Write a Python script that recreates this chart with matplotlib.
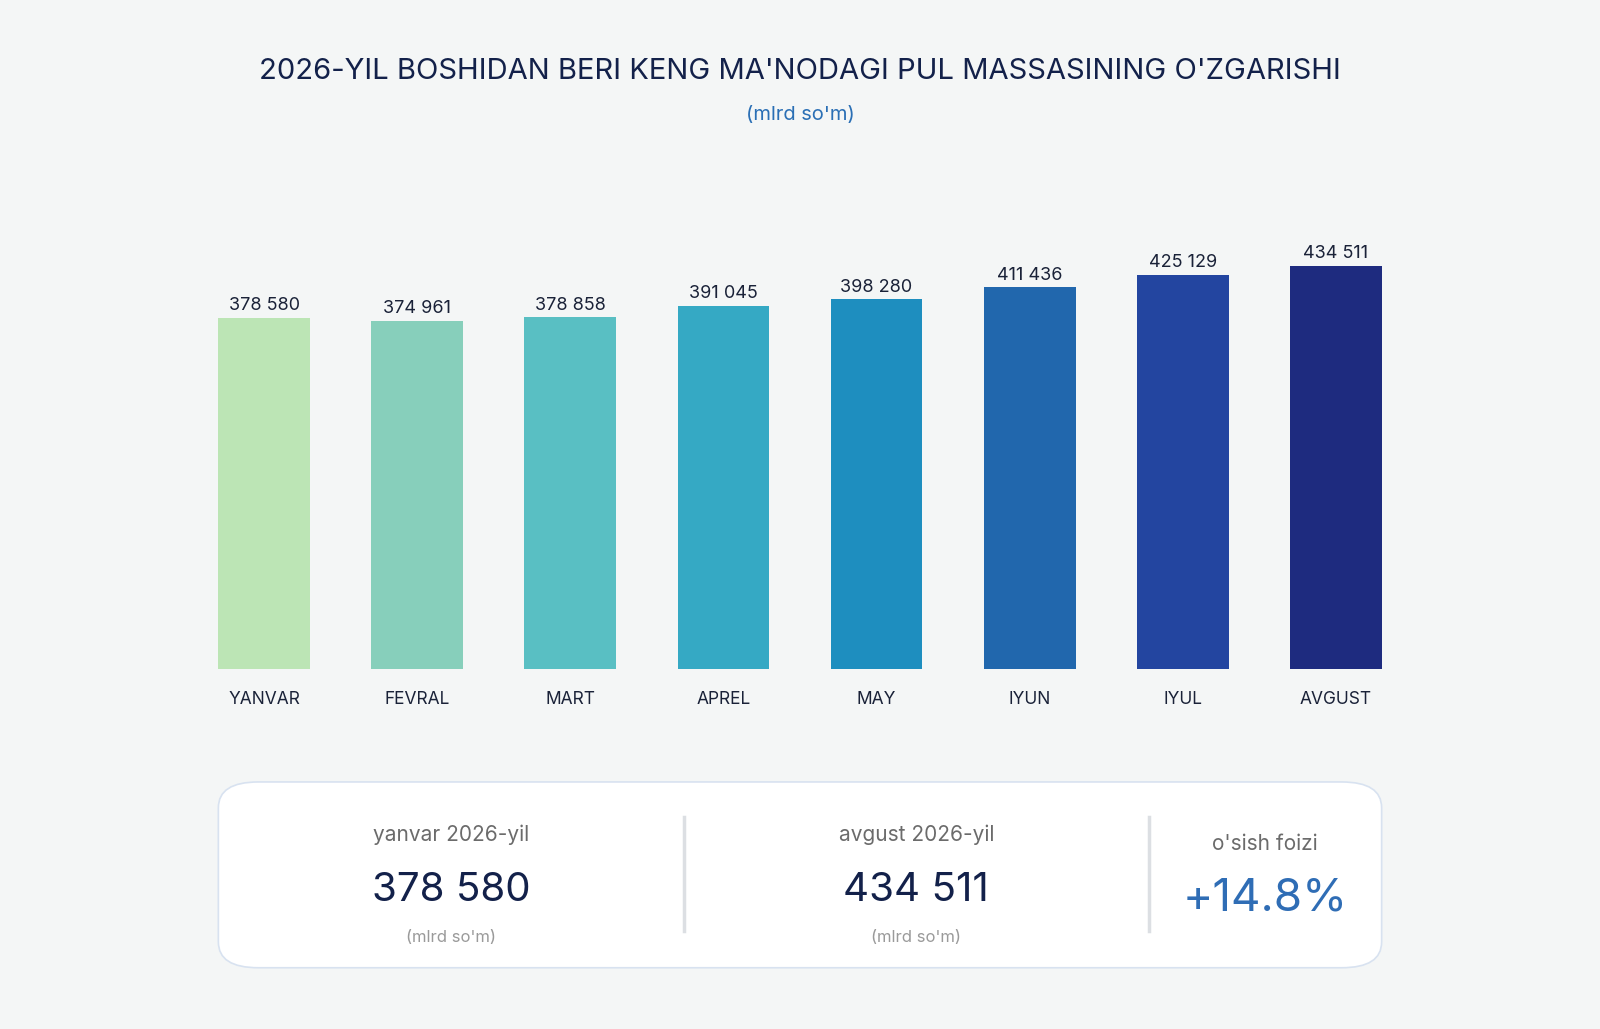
import matplotlib.pyplot as plt
from matplotlib.patches import FancyBboxPatch

plt.rcParams['font.family'] = ['Inter', 'DejaVu Sans']

# data
months = ['YANVAR', 'FEVRAL', 'MART', 'APREL', 'MAY', 'IYUN', 'IYUL', 'AVGUST']
values = [378580, 374961, 378858, 391045, 398280, 411436, 425129, 434511]
colors = ['#bce5b5', '#87cfbb', '#59bfc3', '#35a9c4', '#1e8ebf', '#2167ad', '#2345a0', '#1e2b7f']
growth = '+14.8%'

W, H = 1568., 1008.
def fx(x): return x / W
def fy(y): return 1 - y / H
def fmt(v): return f'{v:,}'.replace(',', ' ')

fig = plt.figure(figsize=(16, 10.29), dpi=100)
fig.patch.set_facecolor('#f4f6f6')

ax = fig.add_axes([fx(184), fy(655), 1200 / W, 454 / H])
ax.set_facecolor('none')
x = range(len(months))
ax.bar(x, values, width=0.6, color=colors)
for i, v in enumerate(values):
    ax.text(i, v + 4000, fmt(v), ha='center', va='bottom', fontsize=13, color='#1a2238')
ax.set_xlim(-0.5, len(months) - 0.5)
ax.set_ylim(0, 500000)
ax.set_xticks(list(x))
ax.set_xticklabels(months, fontsize=12.5, color='#1a2238')
ax.tick_params(axis='x', length=0, pad=16)
ax.set_yticks([])
for s in ax.spines.values():
    s.set_visible(False)

navy = '#13214a'
fig.text(fx(784), fy(70), "2026-YIL BOSHIDAN BERI KENG MA'NODAGI PUL MASSASINING O'ZGARISHI",
         ha='center', va='center', fontsize=21, color=navy)
fig.text(fx(784), fy(113), "(mlrd so'm)", ha='center', va='center', fontsize=14.5, color='#2a6fb5')

# summary box
box = FancyBboxPatch((fx(214), fy(948)), (1354 - 214) / W, (948 - 766) / H,
                     boxstyle='round,pad=0,rounding_size=0.025', transform=fig.transFigure,
                     facecolor='white', edgecolor='#d8e2f0', linewidth=1.2)
fig.patches.append(box)
for xd in [670, 1126]:
    fig.add_artist(plt.Line2D([fx(xd), fx(xd)], [fy(800), fy(912)], transform=fig.transFigure,
                              color='#dcdfe3', linewidth=2.5))

cols = [(442, 'yanvar 2026-yil', fmt(values[0])), (898, 'avgust 2026-yil', fmt(values[-1]))]
for xc, lab, num in cols:
    fig.text(fx(xc), fy(818), lab, ha='center', va='center', fontsize=15, color='#6b6b6b')
    fig.text(fx(xc), fy(872), num, ha='center', va='center', fontsize=29, color=navy)
    fig.text(fx(xc), fy(918), "(mlrd so'm)", ha='center', va='center', fontsize=12, color='#9a9a9a')
fig.text(fx(1240), fy(827), "o'sish foizi", ha='center', va='center', fontsize=15, color='#6b6b6b')
fig.text(fx(1240), fy(880), growth, ha='center', va='center', fontsize=33, color='#2f6db5')

fig.savefig('out.png', dpi=100, facecolor=fig.get_facecolor())
